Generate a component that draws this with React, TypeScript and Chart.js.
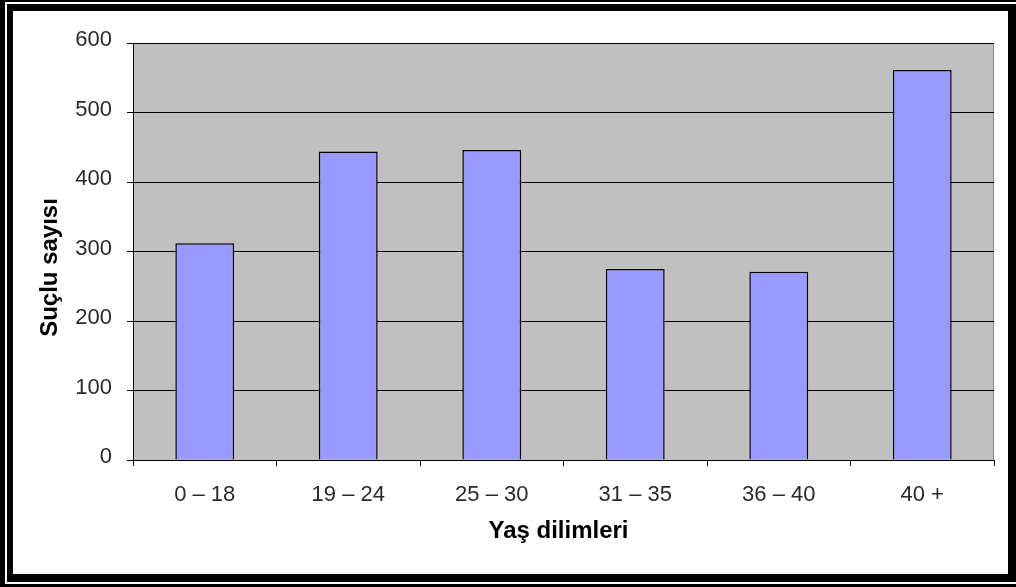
import React, { useEffect, useRef } from "react";
import { Chart, registerables } from "chart.js";

Chart.register(...registerables);

const categories = ["0 – 18", "19 – 24", "25 – 30", "31 – 35", "36 – 40", "40 +"];
const offenderCounts = [312, 444, 446, 275, 271, 561];
const yTickValues = [0, 100, 200, 300, 400, 500, 600];
const xTitle = "Yaş dilimleri";
const yTitle = "Suçlu sayısı";

const W = 1016;
const H = 587;
const FONT = "'Liberation Sans', Arial, sans-serif";

const plotBackground = {
  id: "plotBackground",
  beforeDraw(chart: any) {
    const { ctx, chartArea } = chart;
    const { left, top, right, bottom } = chartArea;
    ctx.save();
    ctx.fillStyle = "#c0c0c0";
    ctx.fillRect(left, top, right - left, bottom - top);
    ctx.strokeStyle = "#8c8c8c";
    ctx.lineWidth = 1;
    ctx.strokeRect(Math.round(left) + 0.5, Math.round(top) + 0.5, Math.round(right - left) - 1, Math.round(bottom - top));
    ctx.restore();
  },
};

const axisTitles = {
  id: "axisTitles",
  afterDraw(chart: any) {
    const { ctx, chartArea } = chart;
    const { left, top, right, bottom } = chartArea;
    ctx.save();
    ctx.fillStyle = "#000";
    ctx.font = `bold 24px ${FONT}`;
    ctx.textAlign = "center";
    ctx.textBaseline = "middle";
    ctx.fillText(xTitle, (left + right) / 2 - 5, bottom + 71);
    ctx.translate(left - 83, (top + bottom) / 2 + 16);
    ctx.rotate(-Math.PI / 2);
    ctx.fillText(yTitle, 0, 0);
    ctx.restore();
  },
};

function BarChart() {
  const ref = useRef<HTMLCanvasElement | null>(null);
  useEffect(() => {
    if (!ref.current) return;
    const chart = new Chart(ref.current, {
      type: "bar",
      data: {
        labels: categories,
        datasets: [
          {
            data: offenderCounts,
            backgroundColor: "#9999ff",
            borderColor: "#000",
            borderWidth: 1.5,
            barPercentage: 0.41,
            categoryPercentage: 1,
          },
        ],
      },
      options: {
        animation: false,
        responsive: false,
        devicePixelRatio: 1,
        layout: { padding: { left: 0, top: 43, right: 22, bottom: 0 } },
        plugins: { legend: { display: false }, tooltip: { enabled: false }, title: { display: false } },
        scales: {
          x: {
            type: "category",
            grid: {
              display: true,
              drawOnChartArea: false,
              drawTicks: true,
              tickLength: 6,
              color: "#000",
              lineWidth: 1,
              offset: true,
            },
            border: { display: true, color: "#000", width: 1 },
            ticks: {
              color: "#2a2a2a",
              font: { family: FONT, size: 22 },
              padding: 16,
              maxRotation: 0,
              autoSkip: false,
            },
            afterFit(scale: any) {
              scale.height = 127;
            },
          },
          y: {
            min: 0,
            max: 600,
            grid: {
              display: true,
              drawOnChartArea: true,
              drawTicks: true,
              tickLength: 6,
              color: "#000",
              lineWidth: 1,
            },
            border: { display: true, color: "#000", width: 1 },
            ticks: {
              color: "#2a2a2a",
              font: { family: FONT, size: 22 },
              padding: 15,
              labelOffset: -3,
            },
            afterBuildTicks(scale: any) {
              scale.ticks = yTickValues.map((v) => ({ value: v }));
            },
            afterFit(scale: any) {
              scale.width = 133;
            },
          },
        },
      },
      plugins: [plotBackground, axisTitles],
    });
    return () => chart.destroy();
  }, []);
  return <canvas ref={ref} width={W} height={H} style={{ position: "absolute", left: 0, top: 0, width: W, height: H }} />;
}

export default function App() {
  return (
    <div style={{ position: "fixed", left: 0, top: 0, width: W, height: H, background: "#fff", overflow: "hidden" }}>
      <BarChart />
      <div
        style={{
          position: "absolute",
          left: 0,
          top: 0,
          width: W,
          height: H,
          boxSizing: "border-box",
          borderStyle: "solid",
          borderColor: "#000",
          borderWidth: "2px 0 3px 5px",
          pointerEvents: "none",
        }}
      />
      <div
        style={{
          position: "absolute",
          left: 7,
          top: 4,
          width: W - 7,
          height: 582 - 4,
          boxSizing: "border-box",
          borderStyle: "solid",
          borderColor: "#000",
          borderWidth: "7px 8px 8px 6px",
          pointerEvents: "none",
        }}
      />
    </div>
  );
}
